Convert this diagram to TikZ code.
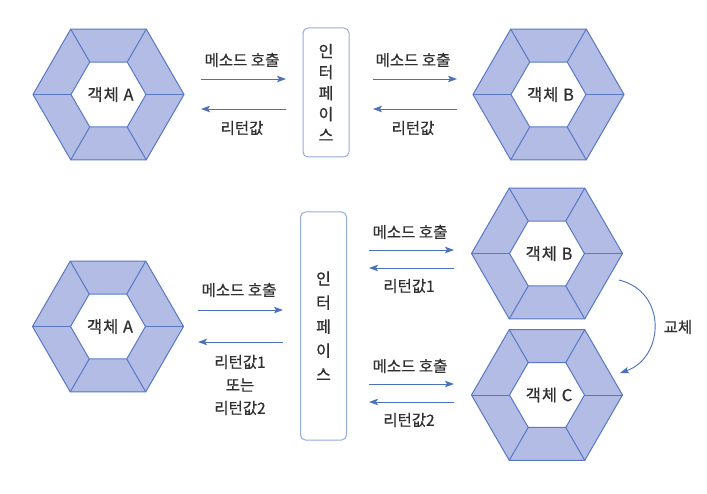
\documentclass[tikz,border=0pt]{standalone}
\usepackage{fontspec}
\setmainfont{Noto Sans CJK KR}[FakeBold=0.7]
\usetikzlibrary{arrows.meta}
\definecolor{hexfill}{HTML}{B2BCE4}
\definecolor{hexline}{HTML}{5878C6}
\definecolor{arrowc}{HTML}{4A70BE}
\definecolor{boxline}{HTML}{95ACDD}
\definecolor{txt}{HTML}{303030}
\tikzset{
  hexedge/.style={draw=hexline, line width=1pt, line join=miter},
  objlabel/.style={font=\fontsize{16.5}{18}\selectfont\addfontfeature{LetterSpace=6}, text=txt, inner sep=0pt},
  arrlabel/.style={font=\fontsize{15.5}{18}\selectfont, text=txt, inner sep=0pt, align=center},
  msgarrow/.style={draw=arrowc, line width=0.9pt, -{Stealth[length=9pt,width=6.5pt,inset=2pt]}},
  ifbox/.style={draw=boxline, line width=1pt, rounded corners=5pt, minimum width=46pt,
     text=txt, align=center, inner sep=0pt},
}
\newcommand\hexobj[4]{%
  \begin{scope}[shift={(#2,#3)}]
    \draw[hexedge, fill=hexfill] (0:75.5pt) -- (60:75.5pt) -- (120:75.5pt) -- (180:75.5pt) -- (240:75.5pt) -- (300:75.5pt) -- cycle;
    \draw[hexedge, fill=white] (0:37.5pt) -- (60:37.5pt) -- (120:37.5pt) -- (180:37.5pt) -- (240:37.5pt) -- (300:37.5pt) -- cycle;
    \foreach \ang in {0,60,...,300} \draw[hexedge] (\ang:37.5pt) -- (\ang:75.5pt);
  \end{scope}
  \node[objlabel] (#1) at (#2+2,#3) {#4};
}
\begin{document}
\begin{tikzpicture}[x=1pt,y=-1pt]
\useasboundingbox[fill=white] (0,0) rectangle (707,494);

% ---------- top diagram ----------
\hexobj{tA}{108.5}{94.5}{객체 A}
\hexobj{tB}{548.5}{94.5}{객체 B}
\node[ifbox, minimum height=129pt, font=\fontsize{16}{21}\selectfont] (tI) at (326,92.5) {인\\터\\페\\이\\스};

\coordinate (t1s) at (201,79);  \coordinate (t1e) at (286,79);
\coordinate (t2s) at (286,109); \coordinate (t2e) at (201,109);
\draw[msgarrow] (t1s) -- (t1e);
\draw[msgarrow] (t2s) -- (t2e);
\node[arrlabel] (tl1) at (242,60) {메소드 호출};
\node[arrlabel] (tl2) at (242,128) {리턴값};

\coordinate (t3s) at (373,79);  \coordinate (t3e) at (457,79);
\coordinate (t4s) at (457,109); \coordinate (t4e) at (373,109);
\draw[msgarrow] (t3s) -- (t3e);
\draw[msgarrow] (t4s) -- (t4e);
\node[arrlabel] (tl3) at (413,60) {메소드 호출};
\node[arrlabel] (tl4) at (413,128) {리턴값};

% ---------- bottom diagram ----------
\hexobj{bA}{108}{326.5}{객체 A}
\hexobj{bB}{547}{253.5}{객체 B}
\hexobj{bC}{547}{395}{객체 C}
\node[ifbox, minimum height=228pt, font=\fontsize{16}{24}\selectfont] (bI) at (323.5,326) {인\\터\\페\\이\\스};

\coordinate (b1s) at (198,310); \coordinate (b1e) at (283,310);
\coordinate (b2s) at (283,342); \coordinate (b2e) at (198,342);
\draw[msgarrow] (b1s) -- (b1e);
\draw[msgarrow] (b2s) -- (b2e);
\node[arrlabel] (bl1) at (239,290) {메소드 호출};
\node[arrlabel, font=\fontsize{15.5}{23}\selectfont] (bl2) at (240,385) {리턴값1\\또는\\리턴값2};

\coordinate (b3s) at (369,250); \coordinate (b3e) at (454,250);
\coordinate (b4s) at (454,268); \coordinate (b4e) at (369,268);
\draw[msgarrow] (b3s) -- (b3e);
\draw[msgarrow] (b4s) -- (b4e);
\node[arrlabel] (bl3) at (410,232) {메소드 호출};
\node[arrlabel] (bl4) at (409,286) {리턴값1};

\coordinate (b5s) at (369,384); \coordinate (b5e) at (454,384);
\coordinate (b6s) at (454,402); \coordinate (b6e) at (369,402);
\draw[msgarrow] (b5s) -- (b5e);
\draw[msgarrow] (b6s) -- (b6e);
\node[arrlabel] (bl5) at (410,366) {메소드 호출};
\node[arrlabel] (bl6) at (409,420) {리턴값2};

\coordinate (swS) at (619,280); \coordinate (swE) at (620,373);
\draw[msgarrow] (swS) .. controls (668,292) and (664,358) .. (swE);
\node[arrlabel] (swl) at (678,327) {교체};
\end{tikzpicture}
\end{document}
